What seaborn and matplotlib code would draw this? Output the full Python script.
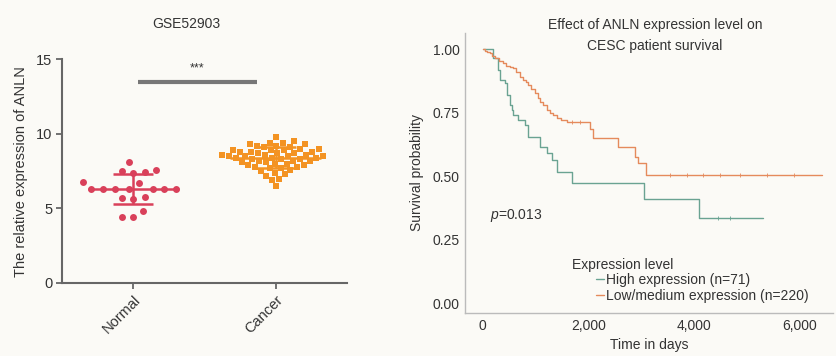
import numpy as np
import pandas as pd
import matplotlib
matplotlib.use("Agg")
import matplotlib.pyplot as plt
import seaborn as sns
from matplotlib.lines import Line2D
from matplotlib.ticker import FuncFormatter

# Data
groups = ["Normal", "Cancer"]
normal = [8.1, 7.6, 7.5, 7.45, 7.4, 6.8, 6.7, 6.3, 6.3, 6.3, 6.3, 6.3, 6.3,
          6.3, 5.75, 5.7, 5.6, 4.85, 4.4, 4.45]
cancer = [9.8, 9.5, 9.4, 9.4, 9.3, 9.3, 9.2, 9.2, 9.1, 9.1, 9.0, 9.0, 8.9,
          8.9, 8.9, 8.8, 8.8, 8.8, 8.7, 8.7, 8.7, 8.6, 8.6, 8.6, 8.5, 8.5,
          8.5, 8.5, 8.4, 8.4, 8.4, 8.3, 8.3, 8.3, 8.2, 8.2, 8.2, 8.1, 8.1,
          8.0, 8.0, 7.9, 7.9, 7.8, 7.8, 7.7, 7.7, 7.6, 7.5, 7.4, 7.3, 7.2,
          7.0, 6.9, 6.5]

# Kaplan-Meier steps
high_t = [0, 200, 296, 328, 422, 454, 517, 549, 580, 675, 801, 864, 1085,
          1211, 1306, 1401, 1686, 3050, 4100, 5300]
high_s = [1.0, 0.965, 0.918, 0.879, 0.866, 0.82, 0.78, 0.761, 0.74, 0.72,
          0.70, 0.656, 0.617, 0.59, 0.564, 0.518, 0.472, 0.41, 0.335, 0.335]
low_t = [0, 40, 80, 138, 180, 233, 300, 391, 450, 520, 580, 640, 706, 760,
         820, 864, 920, 991, 1040, 1085, 1150, 1212, 1280, 1340, 1401, 1480,
         1591, 2032, 2095, 2569, 2885, 2948, 3093, 6420]
low_s = [1.0, 0.995, 0.99, 0.984, 0.975, 0.965, 0.955, 0.945, 0.935, 0.93,
         0.925, 0.91, 0.892, 0.88, 0.87, 0.86, 0.845, 0.827, 0.81, 0.794,
         0.78, 0.761, 0.75, 0.74, 0.728, 0.72, 0.715, 0.685, 0.65, 0.617,
         0.577, 0.551, 0.505, 0.505]
low_cens_t = [1700, 1850, 3550, 3860, 4180, 4500, 4870, 5390, 5900]
low_cens_s = [0.715, 0.715, 0.505, 0.505, 0.505, 0.505, 0.505, 0.505, 0.505]
high_cens_t = [4460, 4690]
high_cens_s = [0.335, 0.335]

red = "#d9405a"
orange = "#f39323"
km_green = "#6aa392"
km_orange = "#e58a5c"
bg = "#fbfaf6"
txt = "#333333"

sns.set_theme(style="white")
plt.rcParams["font.family"] = ["Liberation Sans", "DejaVu Sans"]
plt.rcParams["mathtext.fontset"] = "custom"
plt.rcParams["mathtext.it"] = "Liberation Sans:italic"
plt.rcParams["mathtext.rm"] = "Liberation Sans"

fig = plt.figure(figsize=(8.36, 3.56), dpi=100, facecolor=bg)

# Left panel: scatter of expression
ax1 = fig.add_axes([0.0742, 0.2051, 0.3409, 0.6284])
ax1.set_facecolor(bg)
df_n = pd.DataFrame({"group": "Normal", "value": normal})
df_c = pd.DataFrame({"group": "Cancer", "value": cancer})
# swarm laid out with wide spacing, markers shrunk afterwards (gaps like GraphPad)
sns.swarmplot(data=df_n, x="group", y="value", order=groups, color=red,
              marker="o", size=8, linewidth=0, ax=ax1, zorder=3)
coll_n = [c for c in ax1.collections if len(c.get_offsets()) == len(normal)][0]
sns.swarmplot(data=df_c, x="group", y="value", order=groups, color=orange,
              marker="s", size=5, linewidth=0, ax=ax1, zorder=3, warn_thresh=1)

for i, (vals, col) in enumerate([(normal, red), (cancer, orange)]):
    m = np.mean(vals)
    sd = np.std(vals, ddof=1)
    ax1.hlines(m, i - 0.32, i + 0.32, color=col, lw=1.8, zorder=2)
    ax1.hlines([m - sd, m + sd], i - 0.14, i + 0.14, color=col, lw=1.8, zorder=2)
    ax1.vlines(i, m - sd, m + sd, color=col, lw=1.8, zorder=2)

ax1.plot([0.03, 0.87], [13.5, 13.5], color="#777777", lw=3, solid_capstyle="butt")
ax1.text(0.45, 14.0, "***", ha="center", va="bottom", fontsize=9, color=txt)

ax1.set_xlim(-0.5, 1.5)
ax1.set_ylim(0, 15)
ax1.set_yticks([0, 5, 10, 15])
ax1.set_xlabel("")
ax1.set_ylabel("The relative expression of ANLN", fontsize=10.5, color=txt, labelpad=6)
ax1.tick_params(axis="both", labelsize=10.5, colors=txt, length=4, width=1.3,
                direction="out", pad=3, left=True, bottom=True)
ax1.tick_params(axis="both", color="#666666")
plt.setp(ax1.get_xticklabels(), rotation=45, ha="right", rotation_mode="anchor")
for s in ["top", "right"]:
    ax1.spines[s].set_visible(False)
for s in ["left", "bottom"]:
    ax1.spines[s].set_color("#666666")
    ax1.spines[s].set_linewidth(1.5)
fig.text(186 / 836, 1 - 24 / 356, "GSE52903", ha="center", va="center",
         fontsize=10, color=txt)

# Right panel: survival curves
ax2 = fig.add_axes([0.5562, 0.1208, 0.4402, 0.7865])
ax2.set_facecolor(bg)
df_h = pd.DataFrame({"t": high_t, "s": high_s})
df_l = pd.DataFrame({"t": low_t, "s": low_s})
sns.lineplot(data=df_h, x="t", y="s", drawstyle="steps-post", color=km_green,
             lw=1.0, ax=ax2, estimator=None, sort=False)
sns.lineplot(data=df_l, x="t", y="s", drawstyle="steps-post", color=km_orange,
             lw=1.0, ax=ax2, estimator=None, sort=False)
ax2.plot(low_cens_t, low_cens_s, ls="none", marker="|", ms=3, mew=0.6, color=km_orange)
ax2.plot(high_cens_t, high_cens_s, ls="none", marker="|", ms=3, mew=0.6, color=km_green)

ax2.set_xlim(-335, 6634)
ax2.set_ylim(-0.038, 1.064)
ax2.set_xticks([0, 2000, 4000, 6000])
ax2.set_yticks([0, 0.25, 0.5, 0.75, 1.0])
ax2.xaxis.set_major_formatter(FuncFormatter(lambda v, p: f"{int(v):,}"))
ax2.yaxis.set_major_formatter(FuncFormatter(lambda v, p: f"{v:.2f}"))
ax2.tick_params(axis="both", labelsize=10, colors=txt, length=0, pad=4)
ax2.set_xlabel("Time in days", fontsize=10, color=txt, labelpad=4)
ax2.set_ylabel("Survival probability", fontsize=10, color=txt, labelpad=6)
for s in ["top", "right"]:
    ax2.spines[s].set_visible(False)
for s in ["left", "bottom"]:
    ax2.spines[s].set_color("#bbbbbb")
    ax2.spines[s].set_linewidth(1.0)

fig.text(655 / 836, 1 - 25 / 356, "Effect of ANLN expression level on",
         ha="center", va="center", fontsize=10, color=txt)
fig.text(655 / 836, 1 - 46 / 356, "CESC patient survival",
         ha="center", va="center", fontsize=10, color=txt)
fig.text(490 / 836, 1 - 215 / 356, r"$p$=0.013", ha="left", va="center",
         fontsize=10, color=txt)

fig.text(572 / 836, 1 - 265 / 356, "Expression level", ha="left", va="center",
         fontsize=10, color=txt)
handles = [Line2D([0], [0], color=km_green, lw=1.0),
           Line2D([0], [0], color=km_orange, lw=1.0)]
labels = ["High expression (n=71)", "Low/medium expression (n=220)"]
leg = fig.legend(handles, labels, loc="upper left",
                 bbox_to_anchor=(596 / 836, 1 - 273 / 356), frameon=False,
                 fontsize=10, handlelength=0.6, handletextpad=0.15,
                 labelspacing=0.15, borderpad=0, borderaxespad=0)
for t in leg.get_texts():
    t.set_color(txt)

# take the swarm positions seaborn computed and redraw them with smaller dots
fig.canvas.draw()
offs = np.array(coll_n.get_offsets())
coll_n.remove()
ax1.scatter(offs[:, 0], offs[:, 1], s=5.0 ** 2, color=red, marker="o",
            linewidths=0, zorder=3)

fig.savefig("out.png", dpi=100, facecolor=bg)
